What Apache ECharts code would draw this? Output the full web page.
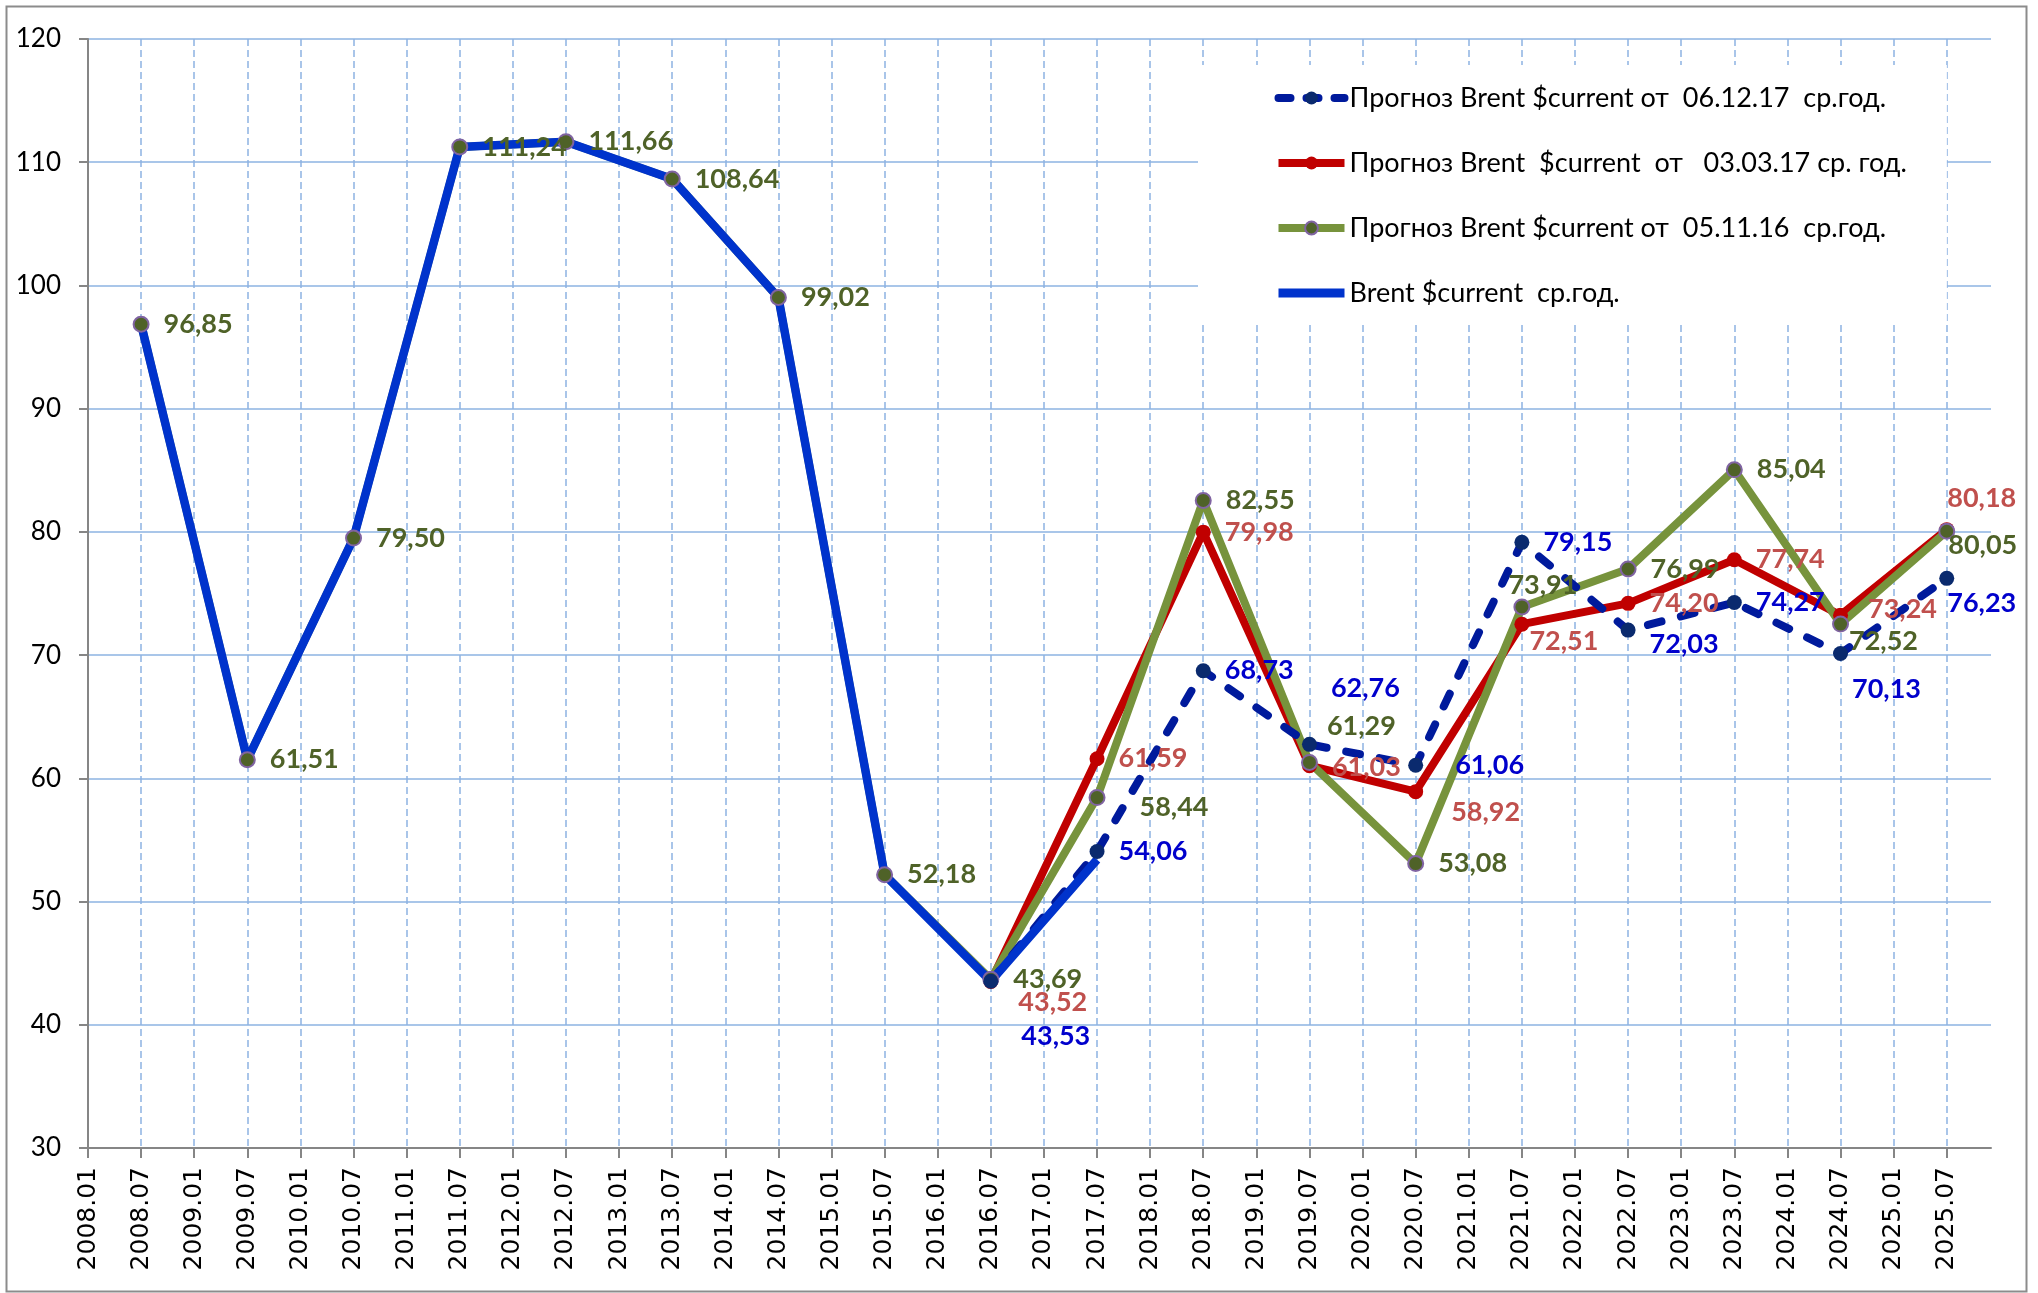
<!DOCTYPE html>
<html>
<head>
<meta charset="utf-8">
<script src="https://cdn.jsdelivr.net/npm/echarts@6/dist/echarts.min.js"></script>
<style>
  html, body { margin: 0; padding: 0; background: #fff; }
  #chart { width: 2038px; height: 1293px; }
</style>
</head>
<body>
<div id="chart"></div>
<script>
  // points are yearly averages, plotted in July
  const pointDates = ['2008.07', '2009.07', '2010.07', '2011.07', '2012.07', '2013.07', '2014.07', '2015.07', '2016.07',
    '2017.07', '2018.07', '2019.07', '2020.07', '2021.07', '2022.07', '2023.07', '2024.07', '2025.07']

  const brentActual = [96.85, 61.51, 79.50, 111.24, 111.66, 108.64, 99.02, 52.18, 43.53, 53.4]
  const forecastNov16 = [96.85, 61.51, 79.50, 111.24, 111.66, 108.64, 99.02, 52.18, 43.69,
    58.44, 82.55, 61.29, 53.08, 73.91, 76.99, 85.04, 72.52, 80.05]
  const forecastMar17 = [null, null, null, null, null, null, null, null, 43.52,
    61.59, 79.98, 61.03, 58.92, 72.51, 74.20, 77.74, 73.24, 80.18]
  const forecastDec17 = [null, null, null, null, null, null, null, null, 43.53,
    54.06, 68.73, 62.76, 61.06, 79.15, 72.03, 74.27, 70.13, 76.23]

  const seriesNames = [
    'Прогноз Brent $current от  06.12.17  ср.год.',
    'Прогноз Brent  $current  от   03.03.17 ср. год.',
    'Прогноз Brent $current от  05.11.16  ср.год.',
    'Brent $current  ср.год.'
  ]

  // month axis 2008.01 .. 2025.12, labelled every 6 months
  const months = []
  for (let y = 2008; y <= 2025; y++) {
    for (let m = 1; m <= 12; m++) {
      months.push(y + '.' + (m < 10 ? '0' + m : m))
    }
  }

  // label nudges (px) where the labels were moved off the default spot
  const shiftNov16 = { '2017.07': [20, 10], '2019.07': [-5, -36], '2021.07': [-36, -22], '2024.07': [-14, 17], '2025.07': [-21, 14] }
  const shiftMar17 = { '2016.07': [6, 21], '2019.07': [1, 2], '2020.07': [14, 21], '2021.07': [-14, 17], '2024.07': [6, -6], '2025.07': [-21, -31] }
  const shiftDec17 = { '2016.07': [9, 55], '2019.07': [0, -56], '2020.07': [18, 0], '2022.07': [0, 14], '2024.07': [-10, 36], '2025.07': [-21, 25] }

  function fmt (v) {
    return v.toFixed(2).replace('.', ',')
  }

  function buildData (values, shifts, withLabel) {
    let out = []
    values.forEach(function (v, i) {
      if (v === null || v === undefined) return
      let item = { value: [pointDates[i], v] }
      if (withLabel) {
        let s = shifts[pointDates[i]] || [0, 0]
        item.label = { show: true, offset: s }
      }
      out.push(item)
    })
    return out
  }

  function labelStyle (color) {
    return {
      show: true,
      position: 'right',
      distance: 14,
      color: color,
      fontFamily: 'Lato',
      fontWeight: 'bold',
      fontSize: 27,
      formatter: function (p) { return fmt(p.value[1]) }
    }
  }

  const option = {
    animation: false,
    backgroundColor: '#fff',
    graphic: [{
      type: 'rect',
      left: 4,
      top: 4,
      shape: { width: 2020, height: 1285 },
      style: { fill: 'none', stroke: '#8c8c8c', lineWidth: 2 },
      silent: true
    }],
    grid: { left: 88, right: 47, top: 39, bottom: 145 },
    legend: {
      data: [
        { name: seriesNames[0], lineStyle: { width: 8, type: [12, 16], cap: 'round' } },
        { name: seriesNames[1], lineStyle: { width: 8 } },
        { name: seriesNames[2], lineStyle: { width: 8 } },
        { name: seriesNames[3], lineStyle: { width: 9 }, itemStyle: { opacity: 0 } }
      ],
      orient: 'vertical',
      left: 1198,
      top: 65,
      padding: [17, 40, 15, 76],
      backgroundColor: '#fff',
      itemWidth: 66,
      itemHeight: 16,
      itemGap: 33,
      textStyle: { fontFamily: 'Lato', fontSize: 27, color: '#000', lineHeight: 32 }
    },
    xAxis: {
      type: 'category',
      data: months,
      boundaryGap: false,
      axisLine: { lineStyle: { color: '#868686', width: 2 } },
      axisTick: { interval: 5, length: 10, lineStyle: { color: '#868686', width: 2 } },
      axisLabel: { interval: 5, rotate: 90, margin: 19, color: '#000', fontFamily: 'DejaVu Sans', fontSize: 25 },
      splitLine: { show: true, interval: 5, lineStyle: { color: '#8db3e2', width: 1.5, type: [7, 4] } }
    },
    yAxis: {
      type: 'value',
      min: 30,
      max: 120,
      interval: 10,
      axisLine: { show: true, lineStyle: { color: '#868686', width: 2 } },
      axisTick: { show: true, length: 9, lineStyle: { color: '#868686', width: 2 } },
      axisLabel: { margin: 27, color: '#000', fontFamily: 'Lato', fontSize: 26 },
      splitLine: { lineStyle: { color: '#8db3e2', width: 1.5 } }
    },
    series: [
      {
        name: seriesNames[1],
        type: 'line',
        data: buildData(forecastMar17, shiftMar17, true),
        symbol: 'circle',
        symbolSize: 15,
        lineStyle: { color: '#c00000', width: 8 },
        itemStyle: { color: '#c00000' },
        label: labelStyle('#c0504d')
      },
      {
        name: seriesNames[2],
        type: 'line',
        data: buildData(forecastNov16, shiftNov16, true),
        symbol: 'circle',
        symbolSize: 15,
        lineStyle: { color: '#77933c', width: 8 },
        itemStyle: { color: '#4f6228', borderColor: '#8064a2', borderWidth: 2 },
        label: labelStyle('#4f6228')
      },
      {
        name: seriesNames[0],
        type: 'line',
        data: buildData(forecastDec17, shiftDec17, true),
        symbol: 'circle',
        symbolSize: 15,
        lineStyle: { color: '#001a9c', width: 8, type: [14, 20], cap: 'round' },
        itemStyle: { color: '#0a2a6e' },
        label: labelStyle('#0000cc')
      },
      {
        name: seriesNames[3],
        type: 'line',
        data: buildData(brentActual, {}, false),
        symbol: 'none',
        lineStyle: { color: '#0033cc', width: 8.5 },
        itemStyle: { color: '#0033cc' }
      }
    ]
  }

  let myecharts = echarts.init(document.getElementById('chart'))
  myecharts.setOption(option)
</script>
</body>
</html>
